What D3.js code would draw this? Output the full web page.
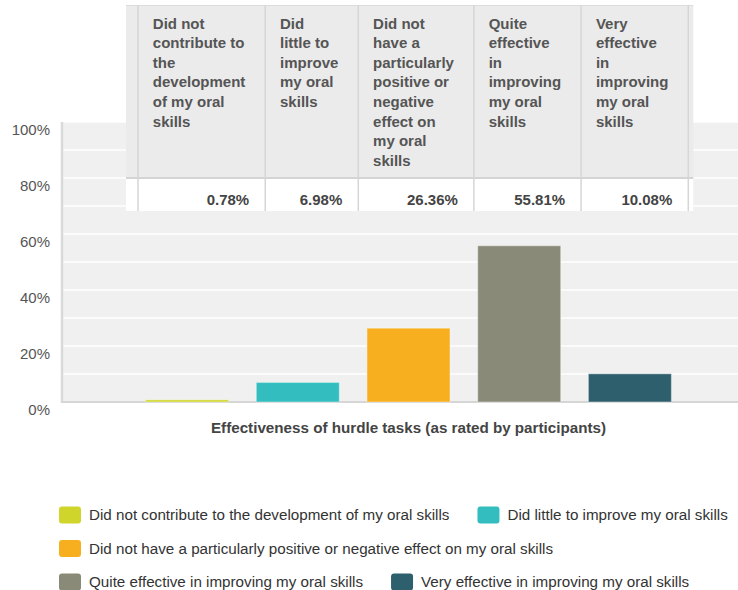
<!DOCTYPE html>
<html>
<head>
<meta charset="utf-8">
<script src="https://cdn.jsdelivr.net/npm/d3@7"></script>
<style>
  body { margin: 0; background: #fff; }
  svg { font-family: "Liberation Sans", Arial, sans-serif; }
</style>
</head>
<body>
<div id="chart"></div>
<script>
// data
const categories = [
    "Did not contribute to the development of my oral skills",
    "Did little to improve my oral skills",
    "Did not have a particularly positive or negative effect on my oral skills",
    "Quite effective in improving my oral skills",
    "Very effective in improving my oral skills"
];
const values = [0.78, 6.98, 26.36, 55.81, 10.08];
const colors = ["#cfd52b", "#34bdbe", "#f7af1f", "#8a8a79", "#2e5f6d"];
const yTicks = [0, 20, 40, 60, 80, 100];
const xTitle = "Effectiveness of hurdle tasks (as rated by participants)";

const width = 738, height = 590;
const plot = { left: 62, right: 755, top: 122, bottom: 402 };

const svg = d3.select("#chart")
    .append("svg")
    .attr("width", width)
    .attr("height", height);

const x = d3.scaleBand()
    .domain(categories)
    .range([plot.left, plot.right])
    .paddingInner(0.25)
    .paddingOuter(0.755);

const y = d3.scaleLinear()
    .domain([0, 100])
    .range([plot.bottom, plot.top]);

// plot background + grid
svg.append("rect")
    .attr("x", plot.left)
    .attr("y", plot.top)
    .attr("width", plot.right - plot.left)
    .attr("height", plot.bottom - plot.top)
    .attr("fill", "#f0f0f0");

svg.append("g")
    .selectAll("line")
    .data(y.ticks(10).filter(d => d > 0))
    .join("line")
    .attr("x1", plot.left)
    .attr("x2", plot.right)
    .attr("y1", d => y(d))
    .attr("y2", d => y(d))
    .attr("stroke", "#fff")
    .attr("stroke-width", 1.6);

// y axis
const yAxis = svg.append("g")
    .attr("transform", `translate(${plot.left},0)`)
    .call(d3.axisLeft(y).tickValues(yTicks).tickFormat(d => d + "%").tickSize(0).tickPadding(12));
yAxis.select(".domain").remove();
yAxis.selectAll("text")
    .attr("font-size", 15)
    .attr("font-family", "Liberation Sans, Arial, sans-serif")
    .attr("fill", "#555")
    .attr("dy", "0.32em")
    .attr("transform", "translate(0,8)");

// axis lines
svg.append("line")
    .attr("x1", plot.left).attr("x2", plot.left)
    .attr("y1", plot.top).attr("y2", plot.bottom + 1)
    .attr("stroke", "#d9d9d9").attr("stroke-width", 2.5);
svg.append("line")
    .attr("x1", plot.left).attr("x2", plot.right)
    .attr("y1", plot.bottom).attr("y2", plot.bottom)
    .attr("stroke", "#d6d6d6").attr("stroke-width", 2);

// bars
svg.append("g")
    .selectAll("rect")
    .data(values)
    .join("rect")
    .attr("x", (d, i) => x(categories[i]))
    .attr("y", d => y(d))
    .attr("width", x.bandwidth())
    .attr("height", d => y(0) - y(d))
    .attr("fill", (d, i) => colors[i])
    .attr("stroke", "rgba(255,255,255,0.35)")
    .attr("stroke-width", 1.2);

// x title
svg.append("text")
    .attr("x", (plot.left + plot.right) / 2)
    .attr("y", 428)
    .attr("dy", "0.35em")
    .attr("text-anchor", "middle")
    .attr("font-size", 15.2)
    .attr("font-weight", "bold")
    .attr("fill", "#444")
    .text(xTitle);

// data table on top
const measure = svg.append("text").attr("visibility", "hidden");
function textW(s, bold, size) {
    measure.attr("font-weight", bold ? "bold" : "normal").attr("font-size", size || 15).text(s);
    return measure.node().getComputedTextLength();
}

const tableLeft = 126, firstCol = 138, tableTop = 5, headBottom = 178, tableBottom = 211;
let cx = firstCol;
const cols = categories.map(c => {
    const words = c.split(" ");
    const maxW = d3.max(words, w => textW(w, true));
    const lines = [];
    let line = "";
    words.forEach(w => {
        const t = line ? line + " " + w : w;
        if (textW(t, true) <= maxW + 0.1) line = t;
        else { lines.push(line); line = w; }
    });
    lines.push(line);
    const col = { x0: cx, w: maxW + 34.7, lines };
    cx += col.w;
    return col;
});
const tableRight = cx + 5;

const table = svg.append("g");
table.append("rect")
    .attr("x", tableLeft).attr("y", tableTop)
    .attr("width", tableRight - tableLeft).attr("height", headBottom - tableTop)
    .attr("fill", "#ebebeb");
table.append("rect")
    .attr("x", tableLeft).attr("y", headBottom)
    .attr("width", tableRight - tableLeft).attr("height", tableBottom - headBottom)
    .attr("fill", "#fff");
table.append("line")
    .attr("x1", tableLeft).attr("x2", tableRight)
    .attr("y1", tableTop + 0.5).attr("y2", tableTop + 0.5)
    .attr("stroke", "#dcdcdc");
table.append("line")
    .attr("x1", tableLeft).attr("x2", tableRight)
    .attr("y1", headBottom).attr("y2", headBottom)
    .attr("stroke", "#d4d4d4").attr("stroke-width", 2);
table.selectAll(".vline")
    .data([firstCol].concat(cols.map(c => c.x0 + c.w)))
    .join("line")
    .attr("x1", d => d).attr("x2", d => d)
    .attr("y1", tableTop).attr("y2", tableBottom)
    .attr("stroke", "#d6d6d6").attr("stroke-width", 1.5);

cols.forEach((col, i) => {
    table.append("text")
        .attr("font-size", 15)
        .attr("font-weight", "bold")
        .attr("fill", "#555")
        .selectAll("tspan")
        .data(col.lines)
        .join("tspan")
        .attr("x", col.x0 + 14.8)
        .attr("y", (d, j) => 23.3 + j * 19.6)
        .attr("dy", "0.35em")
        .text(d => d);
    table.append("text")
        .attr("x", col.x0 + col.w - 16)
        .attr("y", 200)
        .attr("dy", "0.35em")
        .attr("text-anchor", "end")
        .attr("font-size", 15)
        .attr("font-weight", "bold")
        .attr("fill", "#444")
        .text(values[i].toFixed(2) + "%");
});

// legend
const legend = svg.append("g");
let lx = 59, ly = 515;
categories.forEach((c, i) => {
    const itemW = 30 + textW(c, false, 15.2);
    if (lx + itemW > width && lx > 59) { lx = 59; ly += 33.5; }
    legend.append("rect")
        .attr("x", lx).attr("y", ly - 8.5)
        .attr("width", 22).attr("height", 17)
        .attr("rx", 3)
        .attr("fill", colors[i]);
    legend.append("text")
        .attr("x", lx + 30).attr("y", ly)
        .attr("dy", "0.35em")
        .attr("font-size", 15.2)
        .attr("fill", "#333")
        .text(c);
    lx += itemW + 28;
});
measure.remove();
</script>
</body>
</html>
